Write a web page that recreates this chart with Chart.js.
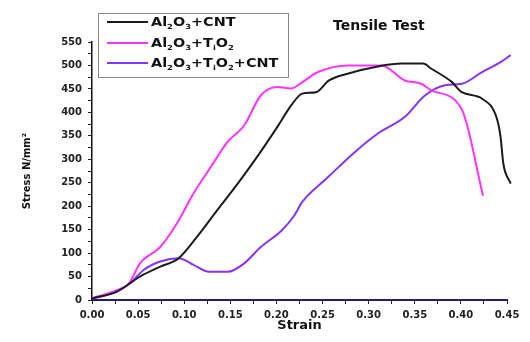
<!DOCTYPE html>
<html>
<head>
<meta charset="utf-8">
<script src="https://cdn.jsdelivr.net/npm/chart.js@4.4.0/dist/chart.umd.min.js"></script>
<style>
  html, body { margin: 0; padding: 0; background: #fff; }
  canvas { display: block; }
</style>
</head>
<body>
<canvas id="chart" width="530" height="342"></canvas>
<script>
// values
const seriesLabels = ["Al₂O₃+CNT", "Al₂O₃+TᵢO₂", "Al₂O₃+TᵢO₂+CNT"];

const cntStrain = [0, 0.027, 0.052, 0.074, 0.094, 0.114, 0.136, 0.158, 0.179, 0.201, 0.216, 0.228, 0.243, 0.257, 0.278, 0.310, 0.336, 0.359, 0.368, 0.390, 0.401, 0.423, 0.439, 0.443, 0.446, 0.454];
const cntStress = [3, 18, 50, 71, 89, 135, 192, 248, 305, 369, 415, 440, 443, 468, 483, 498, 504, 504, 493, 465, 443, 429, 387, 348, 291, 248];

const tioStrain = [0, 0.027, 0.040, 0.052, 0.074, 0.092, 0.110, 0.129, 0.147, 0.165, 0.183, 0.201, 0.216, 0.227, 0.245, 0.278, 0.314, 0.339, 0.357, 0.368, 0.401, 0.424];
const tioStress = [4, 21, 35, 78, 113, 163, 227, 284, 337, 372, 436, 454, 451, 463, 486, 500, 500, 468, 461, 447, 406, 222];

const mixStrain = [0, 0.027, 0.041, 0.056, 0.074, 0.094, 0.110, 0.127, 0.147, 0.165, 0.183, 0.205, 0.219, 0.228, 0.256, 0.283, 0.310, 0.339, 0.361, 0.383, 0.401, 0.423, 0.443, 0.454];
const mixStress = [3, 18, 35, 64, 82, 89, 75, 60, 60, 78, 113, 147, 179, 209, 262, 312, 355, 390, 436, 458, 461, 486, 507, 522];

const lineColors = ["#1c1c1c", "#ff33ff", "#8433ff"];

const toPoints = (xs, ys) => xs.map((x, i) => ({ x: x, y: ys[i] }));

const FONT = "'DejaVu Sans', sans-serif";

// draws text where subscript characters sit lower and smaller
const SUBS = { "₀": "0", "₁": "1", "₂": "2", "₃": "3", "ᵢ": "i" };
function drawSubText(ctx, text, x, y, size, sx) {
    ctx.save();
    ctx.translate(x, y);
    ctx.scale(sx, 1);
    let cx = 0;
    for (const ch of text) {
        if (SUBS[ch]) {
            ctx.font = "bold " + Math.round(size * 0.62) + "px " + FONT;
            ctx.fillText(SUBS[ch], cx, size * 0.28);
            cx += ctx.measureText(SUBS[ch]).width;
        } else {
            ctx.font = "bold " + size + "px " + FONT;
            ctx.fillText(ch, cx, 0);
            cx += ctx.measureText(ch).width;
        }
    }
    ctx.restore();
}

const boxLegend = {
    id: "boxLegend",
    afterDraw(chart) {
        const ctx = chart.ctx;
        ctx.save();
        ctx.fillStyle = "#fff";
        ctx.fillRect(98, 13, 190, 64);
        ctx.strokeStyle = "#8a8a8a";
        ctx.lineWidth = 1;
        ctx.strokeRect(98.5, 13.5, 190, 64);
        const rows = [22, 43, 63];
        chart.data.datasets.forEach((ds, i) => {
            ctx.strokeStyle = ds.borderColor;
            ctx.lineWidth = 2;
            ctx.beginPath();
            ctx.moveTo(107, rows[i]);
            ctx.lineTo(148, rows[i]);
            ctx.stroke();
            ctx.fillStyle = "#111";
            ctx.textBaseline = "alphabetic";
            drawSubText(ctx, ds.label, 151, rows[i] + 4, 12, 1.2);
        });
        // chart title
        ctx.fillStyle = "#111";
        ctx.font = "bold 14px " + FONT;
        ctx.fillText("Tensile Test", 333, 30);
        ctx.restore();
    }
};

new Chart(document.getElementById("chart"), {
    type: "line",
    data: {
        datasets: [
            { label: seriesLabels[0], data: toPoints(cntStrain, cntStress), borderColor: lineColors[0] },
            { label: seriesLabels[1], data: toPoints(tioStrain, tioStress), borderColor: lineColors[1] },
            { label: seriesLabels[2], data: toPoints(mixStrain, mixStress), borderColor: lineColors[2] },
        ],
    },
    options: {
        responsive: false,
        devicePixelRatio: 1,
        animation: false,
        layout: { padding: { left: 0, right: 23, top: 42, bottom: 0 } },
        elements: {
            point: { radius: 0 },
            line: { borderWidth: 2, cubicInterpolationMode: "monotone", fill: false },
        },
        datasets: { line: { clip: false } },
        plugins: {
            legend: { display: false },
            tooltip: { enabled: false },
        },
        scales: {
            x: {
                type: "linear",
                min: 0,
                max: 0.45,
                afterFit(scale) { scale.height = 42; },
                ticks: {
                    stepSize: 0.025,
                    autoSkip: false,
                    maxRotation: 0,
                    padding: 5,
                    color: "#222",
                    font: { family: FONT, size: 10, weight: "bold" },
                    callback(v) {
                        const k = Math.round(v * 1000);
                        return k % 50 === 0 ? (k / 1000).toFixed(2) : "";
                    },
                },
                grid: { drawOnChartArea: false, tickLength: 4, tickColor: "#222" },
                border: { color: "#1e1e78", width: 2 },
                title: {
                    display: true,
                    text: "Strain",
                    color: "#111",
                    font: { family: FONT, size: 13, weight: "bold" },
                    padding: { top: 0, bottom: 9 },
                },
            },
            y: {
                min: 0,
                max: 550,
                afterFit(scale) { scale.width = 92; },
                ticks: {
                    stepSize: 25,
                    autoSkip: false,
                    padding: 6,
                    color: "#222",
                    font: { family: FONT, size: 10, weight: "bold" },
                    callback(v) { return v % 50 === 0 ? v : ""; },
                },
                grid: { drawOnChartArea: false, tickLength: 4, tickColor: "#222" },
                border: { color: "#111", width: 1.5 },
                title: {
                    display: true,
                    text: "Stress N/mm²",
                    color: "#111",
                    font: { family: FONT, size: 10, weight: "bold" },
                    padding: { top: 21, bottom: 0 },
                },
            },
        },
    },
    plugins: [boxLegend],
});
</script>
</body>
</html>
